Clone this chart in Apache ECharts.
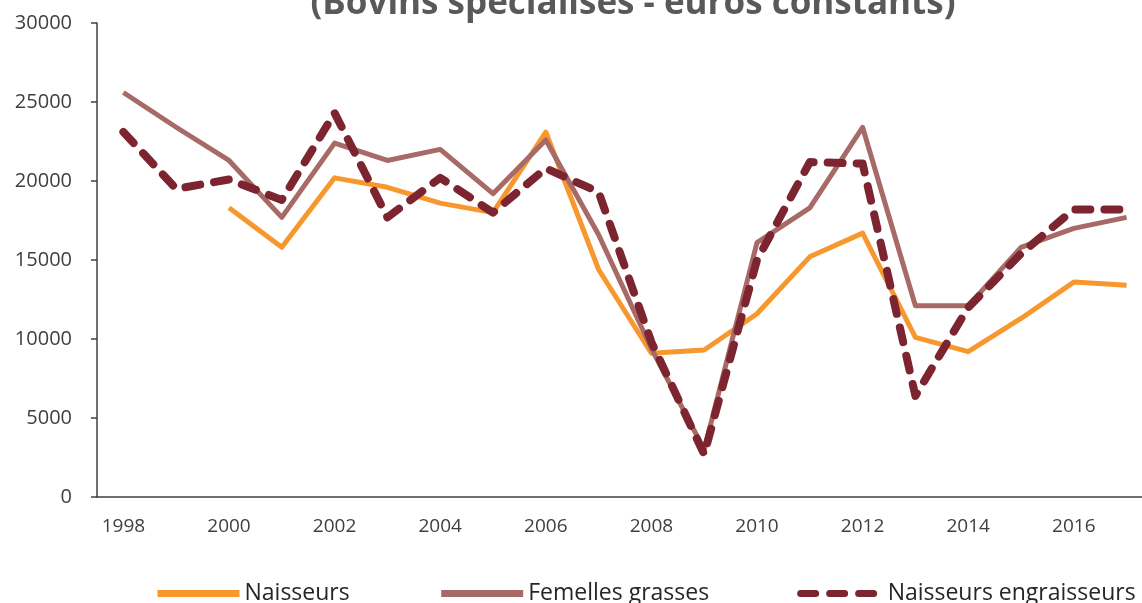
<!DOCTYPE html>
<html>
<head>
<meta charset="utf-8">
<script src="https://cdn.jsdelivr.net/npm/echarts@6/dist/echarts.min.js"></script>
<style>
  html, body { margin: 0; padding: 0; background: #ffffff; }
  #chart { width: 1142px; height: 603px; }
</style>
</head>
<body>
<div id="chart"></div>
<script>
// années
const years = ["1998", "1999", "2000", "2001", "2002", "2003", "2004", "2005", "2006", "2007",
  "2008", "2009", "2010", "2011", "2012", "2013", "2014", "2015", "2016", "2017"];

// valeurs (euros constants)
const naisseurs = [null, null, 18300, 15800, 20200, 19600, 18600, 18000, 23100, 14400,
  9100, 9300, 11600, 15200, 16700, 10100, 9200, 11300, 13600, 13400];
const femellesGrasses = [25600, 23400, 21300, 17700, 22400, 21300, 22000, 19200, 22600, 16600,
  9400, 3000, 16100, 18300, 23400, 12100, 12100, 15800, 17000, 17700];
const naisseursEngraisseurs = [23100, 19500, 20100, 18800, 24300, 17700, 20200, 18000, 20800, 19300,
  9800, 2700, 15000, 21200, 21100, 6400, 12000, 15400, 18200, 18200];

const yTicks = { min: 0, max: 30000, interval: 5000 };

const chart = echarts.init(document.getElementById("chart"));

const axisColor = "#404040";
const labelColor = "#404040";
const font = "'Open Sans', 'Noto Sans', sans-serif";

const option = {
  animation: false,
  backgroundColor: "#ffffff",
  title: {
    text: "(Bovins spécialisés - euros constants)",
    left: 628,
    textAlign: "center",
    top: -18,
    textStyle: {
      fontFamily: font,
      fontSize: 35,
      fontWeight: "bold",
      color: "#595959"
    }
  },
  legend: {
    left: 149,
    top: 577,
    width: 1300,
    itemWidth: 82,
    itemHeight: 14,
    itemGap: 88,
    textStyle: {
      fontFamily: font,
      fontSize: 23,
      color: "#262626"
    },
    itemStyle: { opacity: 0 },
    lineStyle: { width: 7 },
    data: ["Naisseurs", "Femelles grasses", "Naisseurs engraisseurs"]
  },
  grid: {
    left: 97,
    width: 1056,
    top: 23,
    bottom: 106,
    outerBoundsMode: "none"
  },
  xAxis: {
    type: "category",
    data: years,
    boundaryGap: true,
    axisLine: { lineStyle: { color: axisColor, width: 1.5 } },
    axisTick: { interval: 0, length: 6, lineStyle: { color: axisColor, width: 1.5 } },
    axisLabel: {
      interval: 1,
      margin: 20,
      fontFamily: font,
      fontSize: 19,
      color: labelColor
    },
    splitLine: { show: false }
  },
  yAxis: {
    type: "value",
    min: yTicks.min,
    max: yTicks.max,
    interval: yTicks.interval,
    axisLine: { show: true, lineStyle: { color: axisColor, width: 1.5 } },
    axisTick: { show: true, length: 6, lineStyle: { color: axisColor, width: 1.5 } },
    axisLabel: {
      margin: 25,
      fontFamily: font,
      fontSize: 20,
      color: labelColor,
      formatter: (v) => String(v)
    },
    splitLine: { show: false }
  },
  series: [
    {
      name: "Naisseurs",
      type: "line",
      data: naisseurs,
      showSymbol: false,
      symbol: "none",
      connectNulls: false,
      color: "#F7982F",
      lineStyle: { color: "#F7982F", width: 5, join: "round" }
    },
    {
      name: "Femelles grasses",
      type: "line",
      data: femellesGrasses,
      showSymbol: false,
      symbol: "none",
      color: "#A86A66",
      lineStyle: { color: "#A86A66", width: 5, join: "round" }
    },
    {
      name: "Naisseurs engraisseurs",
      type: "line",
      data: naisseursEngraisseurs,
      showSymbol: false,
      symbol: "none",
      color: "#7C2430",
      lineStyle: { color: "#7C2430", width: 8, type: [15, 14], cap: "round", join: "round" }
    }
  ]
};

chart.setOption(option);
</script>
</body>
</html>
